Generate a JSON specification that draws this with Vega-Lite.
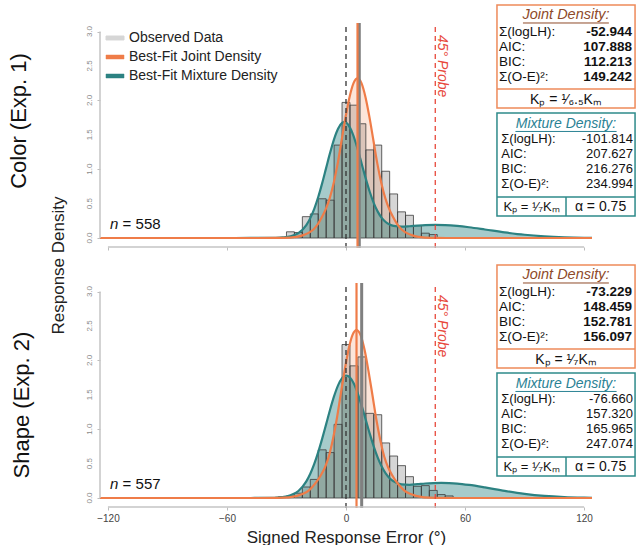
{
"$schema": "https://vega.github.io/schema/vega-lite/v6.json",
"background": "white",
"padding": {"left": 8, "top": 4, "right": 0, "bottom": 0},
"autosize": {"type": "pad"},
"bounds": "flush",
"spacing": 26,
"resolve": {"scale": {"color": "independent"}},
"config": {"font": "Liberation Sans", "view": {"stroke": null}},
"datasets": {
"yticks": [{"v":0,"t":"0.0"},{"v":0.5,"t":"0.5"},{"v":1,"t":"1.0"},{"v":1.5,"t":"1.5"},{"v":2,"t":"2.0"},{"v":2.5,"t":"2.5"},{"v":3,"t":"3.0"}],
"hist": [
{"exp":"Color","x0":-30,"x1":-26,"density":0.09},{"exp":"Color","x0":-26,"x1":-22,"density":0.08},{"exp":"Color","x0":-22,"x1":-18,"density":0.31},{"exp":"Color","x0":-18,"x1":-14,"density":0.35},{"exp":"Color","x0":-14,"x1":-10,"density":0.57},{"exp":"Color","x0":-10,"x1":-6,"density":0.55},{"exp":"Color","x0":-6,"x1":-2,"density":1.35},{"exp":"Color","x0":-2,"x1":2,"density":1.97},{"exp":"Color","x0":2,"x1":6,"density":1.93},{"exp":"Color","x0":6,"x1":10,"density":1.66},{"exp":"Color","x0":10,"x1":14,"density":1.28},{"exp":"Color","x0":14,"x1":18,"density":1.35},{"exp":"Color","x0":18,"x1":22,"density":0.97},{"exp":"Color","x0":22,"x1":26,"density":0.64},{"exp":"Color","x0":26,"x1":30,"density":0.38},{"exp":"Color","x0":30,"x1":34,"density":0.33},{"exp":"Color","x0":34,"x1":38,"density":0.18},{"exp":"Color","x0":38,"x1":42,"density":0.07},{"exp":"Color","x0":42,"x1":46,"density":0.05},
{"exp":"Shape","x0":-34,"x1":-30,"density":0.02},{"exp":"Shape","x0":-30,"x1":-26,"density":0.03},{"exp":"Shape","x0":-26,"x1":-22,"density":0.07},{"exp":"Shape","x0":-22,"x1":-18,"density":0.16},{"exp":"Shape","x0":-18,"x1":-14,"density":0.27},{"exp":"Shape","x0":-14,"x1":-10,"density":0.7},{"exp":"Shape","x0":-10,"x1":-6,"density":0.66},{"exp":"Shape","x0":-6,"x1":-2,"density":1.07},{"exp":"Shape","x0":-2,"x1":2,"density":2.23},{"exp":"Shape","x0":2,"x1":6,"density":1.92},{"exp":"Shape","x0":6,"x1":10,"density":2.05},{"exp":"Shape","x0":10,"x1":14,"density":1.23},{"exp":"Shape","x0":14,"x1":18,"density":1.21},{"exp":"Shape","x0":18,"x1":22,"density":0.8},{"exp":"Shape","x0":22,"x1":26,"density":0.61},{"exp":"Shape","x0":26,"x1":30,"density":0.47},{"exp":"Shape","x0":30,"x1":34,"density":0.31},{"exp":"Shape","x0":34,"x1":38,"density":0.17},{"exp":"Shape","x0":38,"x1":42,"density":0.18},{"exp":"Shape","x0":42,"x1":46,"density":0.11},{"exp":"Shape","x0":46,"x1":50,"density":0.05},{"exp":"Shape","x0":50,"x1":54,"density":0.03}
],
"curves": [
{"exp":"Color","s":"mixture","x":-124,"y":0},{"exp":"Color","s":"mixture","x":-70,"y":0},{"exp":"Color","s":"mixture","x":-56,"y":0.0001},{"exp":"Color","s":"mixture","x":-48,"y":0.0006},{"exp":"Color","s":"mixture","x":-44,"y":0.001},{"exp":"Color","s":"mixture","x":-40,"y":0.0014},{"exp":"Color","s":"mixture","x":-36,"y":0.003},{"exp":"Color","s":"mixture","x":-32,"y":0.008},{"exp":"Color","s":"mixture","x":-28,"y":0.023},{"exp":"Color","s":"mixture","x":-24,"y":0.07},{"exp":"Color","s":"mixture","x":-20,"y":0.188},{"exp":"Color","s":"mixture","x":-18,"y":0.289},{"exp":"Color","s":"mixture","x":-16,"y":0.424},{"exp":"Color","s":"mixture","x":-14,"y":0.595},{"exp":"Color","s":"mixture","x":-12,"y":0.797},{"exp":"Color","s":"mixture","x":-10,"y":1.019},{"exp":"Color","s":"mixture","x":-8,"y":1.24},{"exp":"Color","s":"mixture","x":-6,"y":1.438},{"exp":"Color","s":"mixture","x":-4,"y":1.588},{"exp":"Color","s":"mixture","x":-2,"y":1.672},{"exp":"Color","s":"mixture","x":-1,"y":1.685},{"exp":"Color","s":"mixture","x":0,"y":1.677},{"exp":"Color","s":"mixture","x":2,"y":1.604},{"exp":"Color","s":"mixture","x":3.5,"y":1.507},{"exp":"Color","s":"mixture","x":5,"y":1.376},{"exp":"Color","s":"mixture","x":6.5,"y":1.228},{"exp":"Color","s":"mixture","x":8,"y":1.069},{"exp":"Color","s":"mixture","x":10,"y":0.859},{"exp":"Color","s":"mixture","x":12,"y":0.668},{"exp":"Color","s":"mixture","x":14,"y":0.507},{"exp":"Color","s":"mixture","x":16,"y":0.383},{"exp":"Color","s":"mixture","x":18,"y":0.292},{"exp":"Color","s":"mixture","x":20,"y":0.232},{"exp":"Color","s":"mixture","x":22,"y":0.195},{"exp":"Color","s":"mixture","x":24,"y":0.175},{"exp":"Color","s":"mixture","x":28,"y":0.165},{"exp":"Color","s":"mixture","x":32,"y":0.171},{"exp":"Color","s":"mixture","x":36,"y":0.18},{"exp":"Color","s":"mixture","x":40,"y":0.187},{"exp":"Color","s":"mixture","x":45,"y":0.19},{"exp":"Color","s":"mixture","x":50,"y":0.187},{"exp":"Color","s":"mixture","x":56,"y":0.175},{"exp":"Color","s":"mixture","x":62,"y":0.156},{"exp":"Color","s":"mixture","x":70,"y":0.124},{"exp":"Color","s":"mixture","x":80,"y":0.082},{"exp":"Color","s":"mixture","x":90,"y":0.047},{"exp":"Color","s":"mixture","x":100,"y":0.024},{"exp":"Color","s":"mixture","x":110,"y":0.0105},{"exp":"Color","s":"mixture","x":120,"y":0.004},{"exp":"Color","s":"mixture","x":124,"y":0.003},
{"exp":"Color","s":"joint","x":-124,"y":0},{"exp":"Color","s":"joint","x":-45,"y":0},{"exp":"Color","s":"joint","x":-34.2,"y":0.001},{"exp":"Color","s":"joint","x":-28.2,"y":0.006},{"exp":"Color","s":"joint","x":-24.2,"y":0.02},{"exp":"Color","s":"joint","x":-21.2,"y":0.045},{"exp":"Color","s":"joint","x":-18.2,"y":0.085},{"exp":"Color","s":"joint","x":-16.2,"y":0.13},{"exp":"Color","s":"joint","x":-14.2,"y":0.2},{"exp":"Color","s":"joint","x":-12.2,"y":0.3},{"exp":"Color","s":"joint","x":-10.2,"y":0.42},{"exp":"Color","s":"joint","x":-8.2,"y":0.58},{"exp":"Color","s":"joint","x":-6.2,"y":0.8},{"exp":"Color","s":"joint","x":-4.2,"y":1.08},{"exp":"Color","s":"joint","x":-2.2,"y":1.42},{"exp":"Color","s":"joint","x":-0.2,"y":1.76},{"exp":"Color","s":"joint","x":1.8,"y":2.05},{"exp":"Color","s":"joint","x":3.8,"y":2.25},{"exp":"Color","s":"joint","x":5.8,"y":2.32},{"exp":"Color","s":"joint","x":7.8,"y":2.25},{"exp":"Color","s":"joint","x":9.8,"y":2.05},{"exp":"Color","s":"joint","x":11.8,"y":1.76},{"exp":"Color","s":"joint","x":13.8,"y":1.42},{"exp":"Color","s":"joint","x":15.8,"y":1.08},{"exp":"Color","s":"joint","x":17.8,"y":0.8},{"exp":"Color","s":"joint","x":19.8,"y":0.58},{"exp":"Color","s":"joint","x":21.8,"y":0.42},{"exp":"Color","s":"joint","x":23.8,"y":0.3},{"exp":"Color","s":"joint","x":25.8,"y":0.2},{"exp":"Color","s":"joint","x":27.8,"y":0.13},{"exp":"Color","s":"joint","x":29.8,"y":0.085},{"exp":"Color","s":"joint","x":32.8,"y":0.045},{"exp":"Color","s":"joint","x":35.8,"y":0.02},{"exp":"Color","s":"joint","x":39.8,"y":0.006},{"exp":"Color","s":"joint","x":45.8,"y":0.001},{"exp":"Color","s":"joint","x":56,"y":0},{"exp":"Color","s":"joint","x":124,"y":0},
{"exp":"Shape","s":"mixture","x":-124,"y":0},{"exp":"Shape","s":"mixture","x":-70,"y":0},{"exp":"Shape","s":"mixture","x":-56,"y":0.0001},{"exp":"Shape","s":"mixture","x":-48,"y":0.0003},{"exp":"Shape","s":"mixture","x":-44,"y":0.0005},{"exp":"Shape","s":"mixture","x":-40,"y":0.0013},{"exp":"Shape","s":"mixture","x":-36,"y":0.004},{"exp":"Shape","s":"mixture","x":-32,"y":0.012},{"exp":"Shape","s":"mixture","x":-28,"y":0.038},{"exp":"Shape","s":"mixture","x":-24,"y":0.102},{"exp":"Shape","s":"mixture","x":-20,"y":0.242},{"exp":"Shape","s":"mixture","x":-18,"y":0.353},{"exp":"Shape","s":"mixture","x":-16,"y":0.495},{"exp":"Shape","s":"mixture","x":-14,"y":0.666},{"exp":"Shape","s":"mixture","x":-12,"y":0.862},{"exp":"Shape","s":"mixture","x":-10,"y":1.073},{"exp":"Shape","s":"mixture","x":-8,"y":1.286},{"exp":"Shape","s":"mixture","x":-6,"y":1.479},{"exp":"Shape","s":"mixture","x":-4,"y":1.636},{"exp":"Shape","s":"mixture","x":-2,"y":1.741},{"exp":"Shape","s":"mixture","x":0,"y":1.78},{"exp":"Shape","s":"mixture","x":2,"y":1.752},{"exp":"Shape","s":"mixture","x":4,"y":1.659},{"exp":"Shape","s":"mixture","x":6,"y":1.513},{"exp":"Shape","s":"mixture","x":8,"y":1.331},{"exp":"Shape","s":"mixture","x":10,"y":1.131},{"exp":"Shape","s":"mixture","x":12,"y":0.931},{"exp":"Shape","s":"mixture","x":14,"y":0.747},{"exp":"Shape","s":"mixture","x":16,"y":0.587},{"exp":"Shape","s":"mixture","x":18,"y":0.457},{"exp":"Shape","s":"mixture","x":20,"y":0.358},{"exp":"Shape","s":"mixture","x":22,"y":0.288},{"exp":"Shape","s":"mixture","x":24,"y":0.242},{"exp":"Shape","s":"mixture","x":28,"y":0.199},{"exp":"Shape","s":"mixture","x":32,"y":0.192},{"exp":"Shape","s":"mixture","x":36,"y":0.201},{"exp":"Shape","s":"mixture","x":40,"y":0.211},{"exp":"Shape","s":"mixture","x":44,"y":0.217},{"exp":"Shape","s":"mixture","x":48,"y":0.22},{"exp":"Shape","s":"mixture","x":52,"y":0.217},{"exp":"Shape","s":"mixture","x":56,"y":0.21},{"exp":"Shape","s":"mixture","x":62,"y":0.19},{"exp":"Shape","s":"mixture","x":70,"y":0.154},{"exp":"Shape","s":"mixture","x":80,"y":0.103},{"exp":"Shape","s":"mixture","x":90,"y":0.06},{"exp":"Shape","s":"mixture","x":100,"y":0.03},{"exp":"Shape","s":"mixture","x":110,"y":0.013},{"exp":"Shape","s":"mixture","x":120,"y":0.005},{"exp":"Shape","s":"mixture","x":124,"y":0.003},
{"exp":"Shape","s":"joint","x":-124,"y":0},{"exp":"Shape","s":"joint","x":-45,"y":0},{"exp":"Shape","s":"joint","x":-34.7,"y":0.002},{"exp":"Shape","s":"joint","x":-28.7,"y":0.01},{"exp":"Shape","s":"joint","x":-24.7,"y":0.03},{"exp":"Shape","s":"joint","x":-21.7,"y":0.06},{"exp":"Shape","s":"joint","x":-18.7,"y":0.11},{"exp":"Shape","s":"joint","x":-16.7,"y":0.17},{"exp":"Shape","s":"joint","x":-14.7,"y":0.24},{"exp":"Shape","s":"joint","x":-12.7,"y":0.33},{"exp":"Shape","s":"joint","x":-10.7,"y":0.44},{"exp":"Shape","s":"joint","x":-8.7,"y":0.6},{"exp":"Shape","s":"joint","x":-6.7,"y":0.84},{"exp":"Shape","s":"joint","x":-4.7,"y":1.14},{"exp":"Shape","s":"joint","x":-2.7,"y":1.5},{"exp":"Shape","s":"joint","x":-0.7,"y":1.85},{"exp":"Shape","s":"joint","x":1.3,"y":2.16},{"exp":"Shape","s":"joint","x":3.3,"y":2.37},{"exp":"Shape","s":"joint","x":5.3,"y":2.44},{"exp":"Shape","s":"joint","x":7.3,"y":2.37},{"exp":"Shape","s":"joint","x":9.3,"y":2.16},{"exp":"Shape","s":"joint","x":11.3,"y":1.85},{"exp":"Shape","s":"joint","x":13.3,"y":1.5},{"exp":"Shape","s":"joint","x":15.3,"y":1.14},{"exp":"Shape","s":"joint","x":17.3,"y":0.84},{"exp":"Shape","s":"joint","x":19.3,"y":0.6},{"exp":"Shape","s":"joint","x":21.3,"y":0.44},{"exp":"Shape","s":"joint","x":23.3,"y":0.33},{"exp":"Shape","s":"joint","x":25.3,"y":0.24},{"exp":"Shape","s":"joint","x":27.3,"y":0.17},{"exp":"Shape","s":"joint","x":29.3,"y":0.11},{"exp":"Shape","s":"joint","x":32.3,"y":0.06},{"exp":"Shape","s":"joint","x":35.3,"y":0.03},{"exp":"Shape","s":"joint","x":39.3,"y":0.01},{"exp":"Shape","s":"joint","x":45.3,"y":0.002},{"exp":"Shape","s":"joint","x":56,"y":0},{"exp":"Shape","s":"joint","x":124,"y":0}
],
"vlines": [
{"exp":"Color","kind":"target","x":0},{"exp":"Color","kind":"observed","x":6.7},{"exp":"Color","kind":"joint","x":5.8},{"exp":"Color","kind":"probe","x":45},
{"exp":"Shape","kind":"target","x":0},{"exp":"Shape","kind":"observed","x":7.9},{"exp":"Shape","kind":"joint","x":5.3},{"exp":"Shape","kind":"probe","x":45}
],
"panels": [{"exp":"Color","n":"= 558"},{"exp":"Shape","n":"= 557"}],
"stats": [
{"exp":"Color","model":"joint","title":"Joint Density:","labels":["Σ(logLH):","AIC:","BIC:","Σ(O-E)²:"],"values":["-52.944","107.888","112.213","149.242"],"k":"Kₚ = ¹⁄₆.₅Kₘ"},
{"exp":"Color","model":"mixture","title":"Mixture Density:","labels":["Σ(logLH):","AIC:","BIC:","Σ(O-E)²:"],"values":["-101.814","207.627","216.276","234.994"],"k":"Kₚ = ¹⁄₇Kₘ","alpha":"α = 0.75"},
{"exp":"Shape","model":"joint","title":"Joint Density:","labels":["Σ(logLH):","AIC:","BIC:","Σ(O-E)²:"],"values":["-73.229","148.459","152.781","156.097"],"k":"Kₚ = ¹⁄₇Kₘ"},
{"exp":"Shape","model":"mixture","title":"Mixture Density:","labels":["Σ(logLH):","AIC:","BIC:","Σ(O-E)²:"],"values":["-76.660","157.320","165.965","247.074"],"k":"Kₚ = ¹⁄₇Kₘ","alpha":"α = 0.75"}
]
},
"vconcat": [
{
"width": 492, "height": 234,
"title": {"text": "Color (Exp. 1)", "orient": "left", "fontSize": 22, "fontWeight": "normal", "offset": 18, "color": "#111"},
"layer": [
{"data":{"name":"hist"},"transform":[{"filter":"datum.exp==='Color'"}],
 "mark":{"type":"rect","fill":"#d6d6d6","strokeWidth":0},
 "encoding":{
  "x":{"field":"x0","type":"quantitative","scale":{"domain":[-124,124],"nice":false,"zero":false},"axis":{"title":null,"values":[-120,-60,0,60,120],"labels":false,"domain":false,"grid":false,"offset":9,"tickSize":3,"tickColor":"#bdbdbd"}},
  "x2":{"field":"x1"},
  "y":{"field":"density","type":"quantitative","scale":{"domain":[0,3.4],"nice":false,"zero":false},"axis":{"title":"Response Density","values":[0,0.5,1,1.5,2,2.5,3],"labels":false,"domain":false,"grid":false,"tickSize":3,"tickColor":"#bdbdbd","titleFontSize":17,"titleFontWeight":"normal","titleColor":"#222","titleX":-33,"titleY":261,"titleAngle":270,"titleAlign":"center","titleBaseline":"bottom"}},
  "y2":{"datum":0}}},
{"data":{"name":"yticks"},
 "mark":{"type":"text","angle":270,"fontSize":8,"color":"#8a8a8a","align":"center","baseline":"bottom","dx":0,"dy":-6},
 "encoding":{"x":{"datum":-124},"y":{"field":"v","type":"quantitative"},"text":{"field":"t"}}},
{"data":{"name":"curves"},"transform":[{"filter":"datum.exp==='Color' && datum.s==='joint'"}],
 "mark":{"type":"area","fill":"#EF7C48","fillOpacity":0.2,"interpolate":"monotone"},
 "encoding":{"x":{"field":"x","type":"quantitative"},"y":{"field":"y","type":"quantitative"}}},
{"data":{"name":"curves"},"transform":[{"filter":"datum.exp==='Color' && datum.s==='mixture'"}],
 "mark":{"type":"area","fill":"#2C8282","fillOpacity":0.42,"interpolate":"monotone"},
 "encoding":{"x":{"field":"x","type":"quantitative"},"y":{"field":"y","type":"quantitative"}}},
{"data":{"name":"hist"},"transform":[{"filter":"datum.exp==='Color'"}],
 "mark":{"type":"rect","filled":false,"stroke":"#3c3c3c","strokeWidth":0.8},
 "encoding":{"x":{"field":"x0","type":"quantitative"},"x2":{"field":"x1"},"y":{"field":"density","type":"quantitative"},"y2":{"datum":0}}},
{"data":{"name":"curves"},"transform":[{"filter":"datum.exp==='Color'"}],
 "mark":{"type":"line","strokeWidth":2.2,"interpolate":"monotone"},
 "encoding":{"x":{"field":"x","type":"quantitative"},"y":{"field":"y","type":"quantitative"},
  "color":{"field":"s","type":"nominal","scale":{"domain":["observed","joint","mixture"],"range":["#d6d6d6","#EF7C48","#2C8282"]},
   "legend":{"title":null,"orient":"none","legendX":8,"legendY":27,"padding":0,"labelFontSize":14,"labelColor":"#222","labelOffset":7,"rowPadding":5,"symbolType":"M-1,-0.22L1,-0.22L1,0.22L-1,0.22Z","symbolSize":324,
    "labelExpr":"datum.value==='observed'?'Observed Data':datum.value==='joint'?'Best-Fit Joint Density':'Best-Fit Mixture Density'",
    "encode":{"symbols":{"update":{"fill":{"signal":"datum.value==='observed'?'#d6d6d6':datum.value==='joint'?'#EF7C48':'#2C8282'"},"stroke":{"signal":"datum.value==='observed'?'#555555':datum.value==='joint'?'#EF7C48':'#2C8282'"},"strokeWidth":{"signal":"datum.value==='observed'?1:0.5"},"opacity":{"value":1}}}}}}}},
{"data":{"name":"vlines"},"transform":[{"filter":"datum.exp==='Color' && datum.kind==='target'"}],
 "mark":{"type":"rule","color":"#333333","strokeWidth":1.3,"strokeDash":[5,4]},
 "encoding":{"x":{"field":"x","type":"quantitative"},"y":{"datum":-0.145},"y2":{"datum":3.124}}},
{"data":{"name":"vlines"},"transform":[{"filter":"datum.exp==='Color' && datum.kind==='observed'"}],
 "mark":{"type":"rule","color":"#808080","strokeWidth":3},
 "encoding":{"x":{"field":"x","type":"quantitative"},"y":{"datum":-0.145},"y2":{"datum":3.124}}},
{"data":{"name":"vlines"},"transform":[{"filter":"datum.exp==='Color' && datum.kind==='joint'"}],
 "mark":{"type":"rule","color":"#EF7C48","strokeWidth":2.2},
 "encoding":{"x":{"field":"x","type":"quantitative"},"y":{"datum":-0.145},"y2":{"datum":3.124}}},
{"data":{"name":"vlines"},"transform":[{"filter":"datum.exp==='Color' && datum.kind==='probe'"}],
 "mark":{"type":"rule","color":"#E8493C","strokeWidth":1.3,"strokeDash":[5,4]},
 "encoding":{"x":{"field":"x","type":"quantitative"},"y":{"datum":-0.145},"y2":{"datum":3.124}}},
{"data":{"values":[{}]},"mark":{"type":"rule","color":"#c4c4c4","strokeWidth":1.5},
 "encoding":{"x":{"datum":-124},"y":{"datum":0},"y2":{"datum":3}}},
{"data":{"values":[{}]},"mark":{"type":"rule","color":"#c4c4c4","strokeWidth":1.5},
 "encoding":{"x":{"datum":-120},"x2":{"datum":120},"y":{"datum":-0.131}}},
{"data":{"name":"panels"},"transform":[{"filter":"datum.exp==='Color'"}],
 "mark":{"type":"text","text":"n","fontStyle":"italic","fontSize":15,"align":"left","baseline":"middle","color":"#111"},
 "encoding":{"x":{"datum":-119},"y":{"datum":0.203}}},
{"data":{"name":"panels"},"transform":[{"filter":"datum.exp==='Color'"}],
 "mark":{"type":"text","fontSize":15,"align":"left","baseline":"middle","color":"#111"},
 "encoding":{"x":{"datum":-112.6},"y":{"datum":0.203},"text":{"field":"n"}}},
{"data":{"name":"panels"},"transform":[{"filter":"datum.exp==='Color'"}],
 "mark":{"type":"text","text":"45° Probe","angle":90,"fontStyle":"italic","fontSize":14,"align":"left","baseline":"alphabetic","color":"#E8493C"},
 "encoding":{"x":{"datum":46.6},"y":{"datum":2.95}}},
{"data":{"name":"stats"},"transform":[{"filter":"datum.exp==='Color' && datum.model==='joint'"}],
 "mark":{"type":"rect","fill":"white","stroke":"#EE8A5A","strokeWidth":1.5},
 "encoding":{"x":{"datum":76.1},"x2":{"datum":145.7},"y":{"datum":3.386},"y2":{"datum":1.889}}},
{"data":{"name":"stats"},"transform":[{"filter":"datum.exp==='Color' && datum.model==='joint'"}],
 "mark":{"type":"rule","color":"#EE8A5A","strokeWidth":1.5},
 "encoding":{"x":{"datum":76.1},"x2":{"datum":145.7},"y":{"datum":2.165}}},
{"data":{"name":"stats"},"transform":[{"filter":"datum.exp==='Color' && datum.model==='joint'"}],
 "mark":{"type":"text","fontStyle":"italic","fontSize":14.5,"align":"center","baseline":"middle","color":"#8E4A2A"},
 "encoding":{"x":{"datum":110.9},"y":{"datum":3.24},"text":{"field":"title"}}},
{"data":{"name":"stats"},"transform":[{"filter":"datum.exp==='Color' && datum.model==='joint'"}],
 "mark":{"type":"rule","color":"#8E4A2A","strokeWidth":1},
 "encoding":{"x":{"datum":89.2},"x2":{"datum":132.5},"y":{"datum":3.124}}},
{"data":{"name":"stats"},"transform":[{"filter":"datum.exp==='Color' && datum.model==='joint'"}],
 "mark":{"type":"text","fontSize":13.5,"lineHeight":15,"align":"left","baseline":"top","color":"#111"},
 "encoding":{"x":{"datum":77.1},"y":{"datum":3.102},"text":{"field":"labels"}}},
{"data":{"name":"stats"},"transform":[{"filter":"datum.exp==='Color' && datum.model==='joint'"}],
 "mark":{"type":"text","fontSize":13.5,"lineHeight":15,"fontWeight":"bold","align":"right","baseline":"top","color":"#111"},
 "encoding":{"x":{"datum":144.2},"y":{"datum":3.102},"text":{"field":"values"}}},
{"data":{"name":"stats"},"transform":[{"filter":"datum.exp==='Color' && datum.model==='joint'"}],
 "mark":{"type":"text","fontSize":14,"align":"center","baseline":"middle","color":"#111"},
 "encoding":{"x":{"datum":110.9},"y":{"datum":2.005},"text":{"field":"k"}}},
{"data":{"name":"stats"},"transform":[{"filter":"datum.exp==='Color' && datum.model==='mixture'"}],
 "mark":{"type":"rect","fill":"white","stroke":"#2E8A8A","strokeWidth":1.5},
 "encoding":{"x":{"datum":76.1},"x2":{"datum":145.7},"y":{"datum":1.817},"y2":{"datum":0.32}}},
{"data":{"name":"stats"},"transform":[{"filter":"datum.exp==='Color' && datum.model==='mixture'"}],
 "mark":{"type":"rule","color":"#2E8A8A","strokeWidth":1.5},
 "encoding":{"x":{"datum":76.1},"x2":{"datum":145.7},"y":{"datum":0.596}}},
{"data":{"name":"stats"},"transform":[{"filter":"datum.exp==='Color' && datum.model==='mixture'"}],
 "mark":{"type":"rule","color":"#2E8A8A","strokeWidth":1.5},
 "encoding":{"x":{"datum":110.9},"y":{"datum":0.596},"y2":{"datum":0.32}}},
{"data":{"name":"stats"},"transform":[{"filter":"datum.exp==='Color' && datum.model==='mixture'"}],
 "mark":{"type":"text","fontStyle":"italic","fontSize":14,"align":"center","baseline":"middle","color":"#2A8294"},
 "encoding":{"x":{"datum":110.9},"y":{"datum":1.66},"text":{"field":"title"}}},
{"data":{"name":"stats"},"transform":[{"filter":"datum.exp==='Color' && datum.model==='mixture'"}],
 "mark":{"type":"rule","color":"#2A8294","strokeWidth":1},
 "encoding":{"x":{"datum":85.4},"x2":{"datum":136.4},"y":{"datum":1.548}}},
{"data":{"name":"stats"},"transform":[{"filter":"datum.exp==='Color' && datum.model==='mixture'"}],
 "mark":{"type":"text","fontSize":13,"lineHeight":15,"align":"left","baseline":"top","color":"#111"},
 "encoding":{"x":{"datum":78.3},"y":{"datum":1.53},"text":{"field":"labels"}}},
{"data":{"name":"stats"},"transform":[{"filter":"datum.exp==='Color' && datum.model==='mixture'"}],
 "mark":{"type":"text","fontSize":13,"lineHeight":15,"align":"right","baseline":"top","color":"#111"},
 "encoding":{"x":{"datum":144.7},"y":{"datum":1.53},"text":{"field":"values"}}},
{"data":{"name":"stats"},"transform":[{"filter":"datum.exp==='Color' && datum.model==='mixture'"}],
 "mark":{"type":"text","fontSize":13,"align":"center","baseline":"middle","color":"#111"},
 "encoding":{"x":{"datum":93.5},"y":{"datum":0.45},"text":{"field":"k"}}},
{"data":{"name":"stats"},"transform":[{"filter":"datum.exp==='Color' && datum.model==='mixture'"}],
 "mark":{"type":"text","fontSize":14,"align":"center","baseline":"middle","color":"#111"},
 "encoding":{"x":{"datum":128.3},"y":{"datum":0.45},"text":{"field":"alpha"}}}
]
},
{
"width": 492, "height": 234,
"title": {"text": "Shape (Exp. 2)", "orient": "left", "fontSize": 22, "fontWeight": "normal", "offset": 52, "dx": -24, "color": "#111"},
"layer": [
{"data":{"name":"hist"},"transform":[{"filter":"datum.exp==='Shape'"}],
 "mark":{"type":"rect","fill":"#d6d6d6","strokeWidth":0},
 "encoding":{
  "x":{"field":"x0","type":"quantitative","scale":{"domain":[-124,124],"nice":false,"zero":false},"axis":{"title":"Signed Response Error (°)","values":[-120,-60,0,60,120],"domain":false,"grid":false,"offset":9,"tickSize":3,"tickColor":"#bdbdbd","labelFontSize":10,"labelColor":"#444","labelPadding":3,"labelFlush":false,"titleFontSize":17,"titleFontWeight":"normal","titleColor":"#222","titlePadding":6}},
  "x2":{"field":"x1"},
  "y":{"field":"density","type":"quantitative","scale":{"domain":[0,3.4],"nice":false,"zero":false},"axis":{"title":null,"values":[0,0.5,1,1.5,2,2.5,3],"labels":false,"domain":false,"grid":false,"tickSize":3,"tickColor":"#bdbdbd"}},
  "y2":{"datum":0}}},
{"data":{"name":"yticks"},
 "mark":{"type":"text","angle":270,"fontSize":8,"color":"#8a8a8a","align":"center","baseline":"bottom","dx":0,"dy":-6},
 "encoding":{"x":{"datum":-124},"y":{"field":"v","type":"quantitative"},"text":{"field":"t"}}},
{"data":{"name":"curves"},"transform":[{"filter":"datum.exp==='Shape' && datum.s==='joint'"}],
 "mark":{"type":"area","fill":"#EF7C48","fillOpacity":0.2,"interpolate":"monotone"},
 "encoding":{"x":{"field":"x","type":"quantitative"},"y":{"field":"y","type":"quantitative"}}},
{"data":{"name":"curves"},"transform":[{"filter":"datum.exp==='Shape' && datum.s==='mixture'"}],
 "mark":{"type":"area","fill":"#2C8282","fillOpacity":0.42,"interpolate":"monotone"},
 "encoding":{"x":{"field":"x","type":"quantitative"},"y":{"field":"y","type":"quantitative"}}},
{"data":{"name":"hist"},"transform":[{"filter":"datum.exp==='Shape'"}],
 "mark":{"type":"rect","filled":false,"stroke":"#3c3c3c","strokeWidth":0.8},
 "encoding":{"x":{"field":"x0","type":"quantitative"},"x2":{"field":"x1"},"y":{"field":"density","type":"quantitative"},"y2":{"datum":0}}},
{"data":{"name":"curves"},"transform":[{"filter":"datum.exp==='Shape'"}],
 "mark":{"type":"line","strokeWidth":2.2,"interpolate":"monotone"},
 "encoding":{"x":{"field":"x","type":"quantitative"},"y":{"field":"y","type":"quantitative"},
  "color":{"field":"s","type":"nominal","scale":{"domain":["observed","joint","mixture"],"range":["#d6d6d6","#EF7C48","#2C8282"]},"legend":null}}},
{"data":{"name":"vlines"},"transform":[{"filter":"datum.exp==='Shape' && datum.kind==='target'"}],
 "mark":{"type":"rule","color":"#333333","strokeWidth":1.3,"strokeDash":[5,4]},
 "encoding":{"x":{"field":"x","type":"quantitative"},"y":{"datum":-0.145},"y2":{"datum":3.124}}},
{"data":{"name":"vlines"},"transform":[{"filter":"datum.exp==='Shape' && datum.kind==='observed'"}],
 "mark":{"type":"rule","color":"#808080","strokeWidth":3},
 "encoding":{"x":{"field":"x","type":"quantitative"},"y":{"datum":-0.145},"y2":{"datum":3.124}}},
{"data":{"name":"vlines"},"transform":[{"filter":"datum.exp==='Shape' && datum.kind==='joint'"}],
 "mark":{"type":"rule","color":"#EF7C48","strokeWidth":2.2},
 "encoding":{"x":{"field":"x","type":"quantitative"},"y":{"datum":-0.145},"y2":{"datum":3.124}}},
{"data":{"name":"vlines"},"transform":[{"filter":"datum.exp==='Shape' && datum.kind==='probe'"}],
 "mark":{"type":"rule","color":"#E8493C","strokeWidth":1.3,"strokeDash":[5,4]},
 "encoding":{"x":{"field":"x","type":"quantitative"},"y":{"datum":-0.145},"y2":{"datum":3.124}}},
{"data":{"values":[{}]},"mark":{"type":"rule","color":"#c4c4c4","strokeWidth":1.5},
 "encoding":{"x":{"datum":-124},"y":{"datum":0},"y2":{"datum":3}}},
{"data":{"values":[{}]},"mark":{"type":"rule","color":"#c4c4c4","strokeWidth":1.5},
 "encoding":{"x":{"datum":-120},"x2":{"datum":120},"y":{"datum":-0.131}}},
{"data":{"name":"panels"},"transform":[{"filter":"datum.exp==='Shape'"}],
 "mark":{"type":"text","text":"n","fontStyle":"italic","fontSize":15,"align":"left","baseline":"middle","color":"#111"},
 "encoding":{"x":{"datum":-119},"y":{"datum":0.203}}},
{"data":{"name":"panels"},"transform":[{"filter":"datum.exp==='Shape'"}],
 "mark":{"type":"text","fontSize":15,"align":"left","baseline":"middle","color":"#111"},
 "encoding":{"x":{"datum":-112.6},"y":{"datum":0.203},"text":{"field":"n"}}},
{"data":{"name":"panels"},"transform":[{"filter":"datum.exp==='Shape'"}],
 "mark":{"type":"text","text":"45° Probe","angle":90,"fontStyle":"italic","fontSize":14,"align":"left","baseline":"alphabetic","color":"#E8493C"},
 "encoding":{"x":{"datum":46.6},"y":{"datum":2.95}}},
{"data":{"name":"stats"},"transform":[{"filter":"datum.exp==='Shape' && datum.model==='joint'"}],
 "mark":{"type":"rect","fill":"white","stroke":"#EE8A5A","strokeWidth":1.5},
 "encoding":{"x":{"datum":76.1},"x2":{"datum":145.7},"y":{"datum":3.386},"y2":{"datum":1.889}}},
{"data":{"name":"stats"},"transform":[{"filter":"datum.exp==='Shape' && datum.model==='joint'"}],
 "mark":{"type":"rule","color":"#EE8A5A","strokeWidth":1.5},
 "encoding":{"x":{"datum":76.1},"x2":{"datum":145.7},"y":{"datum":2.165}}},
{"data":{"name":"stats"},"transform":[{"filter":"datum.exp==='Shape' && datum.model==='joint'"}],
 "mark":{"type":"text","fontStyle":"italic","fontSize":14.5,"align":"center","baseline":"middle","color":"#8E4A2A"},
 "encoding":{"x":{"datum":110.9},"y":{"datum":3.24},"text":{"field":"title"}}},
{"data":{"name":"stats"},"transform":[{"filter":"datum.exp==='Shape' && datum.model==='joint'"}],
 "mark":{"type":"rule","color":"#8E4A2A","strokeWidth":1},
 "encoding":{"x":{"datum":89.2},"x2":{"datum":132.5},"y":{"datum":3.124}}},
{"data":{"name":"stats"},"transform":[{"filter":"datum.exp==='Shape' && datum.model==='joint'"}],
 "mark":{"type":"text","fontSize":13.5,"lineHeight":15,"align":"left","baseline":"top","color":"#111"},
 "encoding":{"x":{"datum":77.1},"y":{"datum":3.102},"text":{"field":"labels"}}},
{"data":{"name":"stats"},"transform":[{"filter":"datum.exp==='Shape' && datum.model==='joint'"}],
 "mark":{"type":"text","fontSize":13.5,"lineHeight":15,"fontWeight":"bold","align":"right","baseline":"top","color":"#111"},
 "encoding":{"x":{"datum":144.2},"y":{"datum":3.102},"text":{"field":"values"}}},
{"data":{"name":"stats"},"transform":[{"filter":"datum.exp==='Shape' && datum.model==='joint'"}],
 "mark":{"type":"text","fontSize":14,"align":"center","baseline":"middle","color":"#111"},
 "encoding":{"x":{"datum":110.9},"y":{"datum":2.005},"text":{"field":"k"}}},
{"data":{"name":"stats"},"transform":[{"filter":"datum.exp==='Shape' && datum.model==='mixture'"}],
 "mark":{"type":"rect","fill":"white","stroke":"#2E8A8A","strokeWidth":1.5},
 "encoding":{"x":{"datum":76.1},"x2":{"datum":145.7},"y":{"datum":1.817},"y2":{"datum":0.32}}},
{"data":{"name":"stats"},"transform":[{"filter":"datum.exp==='Shape' && datum.model==='mixture'"}],
 "mark":{"type":"rule","color":"#2E8A8A","strokeWidth":1.5},
 "encoding":{"x":{"datum":76.1},"x2":{"datum":145.7},"y":{"datum":0.596}}},
{"data":{"name":"stats"},"transform":[{"filter":"datum.exp==='Shape' && datum.model==='mixture'"}],
 "mark":{"type":"rule","color":"#2E8A8A","strokeWidth":1.5},
 "encoding":{"x":{"datum":110.9},"y":{"datum":0.596},"y2":{"datum":0.32}}},
{"data":{"name":"stats"},"transform":[{"filter":"datum.exp==='Shape' && datum.model==='mixture'"}],
 "mark":{"type":"text","fontStyle":"italic","fontSize":14,"align":"center","baseline":"middle","color":"#2A8294"},
 "encoding":{"x":{"datum":110.9},"y":{"datum":1.66},"text":{"field":"title"}}},
{"data":{"name":"stats"},"transform":[{"filter":"datum.exp==='Shape' && datum.model==='mixture'"}],
 "mark":{"type":"rule","color":"#2A8294","strokeWidth":1},
 "encoding":{"x":{"datum":85.4},"x2":{"datum":136.4},"y":{"datum":1.548}}},
{"data":{"name":"stats"},"transform":[{"filter":"datum.exp==='Shape' && datum.model==='mixture'"}],
 "mark":{"type":"text","fontSize":13,"lineHeight":15,"align":"left","baseline":"top","color":"#111"},
 "encoding":{"x":{"datum":78.3},"y":{"datum":1.53},"text":{"field":"labels"}}},
{"data":{"name":"stats"},"transform":[{"filter":"datum.exp==='Shape' && datum.model==='mixture'"}],
 "mark":{"type":"text","fontSize":13,"lineHeight":15,"align":"right","baseline":"top","color":"#111"},
 "encoding":{"x":{"datum":144.7},"y":{"datum":1.53},"text":{"field":"values"}}},
{"data":{"name":"stats"},"transform":[{"filter":"datum.exp==='Shape' && datum.model==='mixture'"}],
 "mark":{"type":"text","fontSize":13,"align":"center","baseline":"middle","color":"#111"},
 "encoding":{"x":{"datum":93.5},"y":{"datum":0.45},"text":{"field":"k"}}},
{"data":{"name":"stats"},"transform":[{"filter":"datum.exp==='Shape' && datum.model==='mixture'"}],
 "mark":{"type":"text","fontSize":14,"align":"center","baseline":"middle","color":"#111"},
 "encoding":{"x":{"datum":128.3},"y":{"datum":0.45},"text":{"field":"alpha"}}}
]
}
]
}
